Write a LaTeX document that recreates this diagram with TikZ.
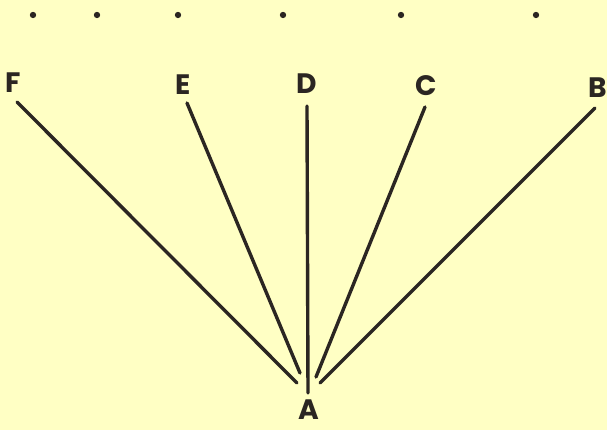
\documentclass[tikz,border=0pt]{standalone}
\usepackage{fontspec}
\setmainfont{Poppins}
\usepackage{tikz}
\usetikzlibrary{positioning}
\usepackage{xcolor}
\definecolor{Paper}{HTML}{FFFFC4}
\definecolor{Ink}{HTML}{2B2622}

\begin{document}
\begin{tikzpicture}[x=0.03cm,y=-0.03cm,
  lbl/.style={inner sep=0pt,text=Ink,font=\fontsize{24}{24}\selectfont\bfseries},
  ray/.style={draw=Ink,line width=2.9pt,line cap=round}]
  \fill[Paper] (0,0) rectangle (607,430);
  \useasboundingbox (0,0) rectangle (607,430);
  \foreach \x [count=\i] in {33,97,178,283,401,536}{
    \fill[Ink] (\x,15) circle (0.095cm);
  }
  \foreach \n/\lx/\ly/\tx/\ty/\bx/\by in {F/13/83/17/102/297/383,E/183/85/187/103/300/373,D/307/84/307/106/308/393,C/426/86/425/107/316/377,B/598/88/595/108/320/383}{
    \node[lbl] (\n) at (\lx,\ly) {\n};
    \coordinate (\n top) at (\tx,\ty);
    \coordinate (\n bot) at (\bx,\by);
    \draw[ray] (\n top) -- (\n bot);
  }
  \node[lbl] (A) at (309,410) {A};
\end{tikzpicture}
\end{document}
